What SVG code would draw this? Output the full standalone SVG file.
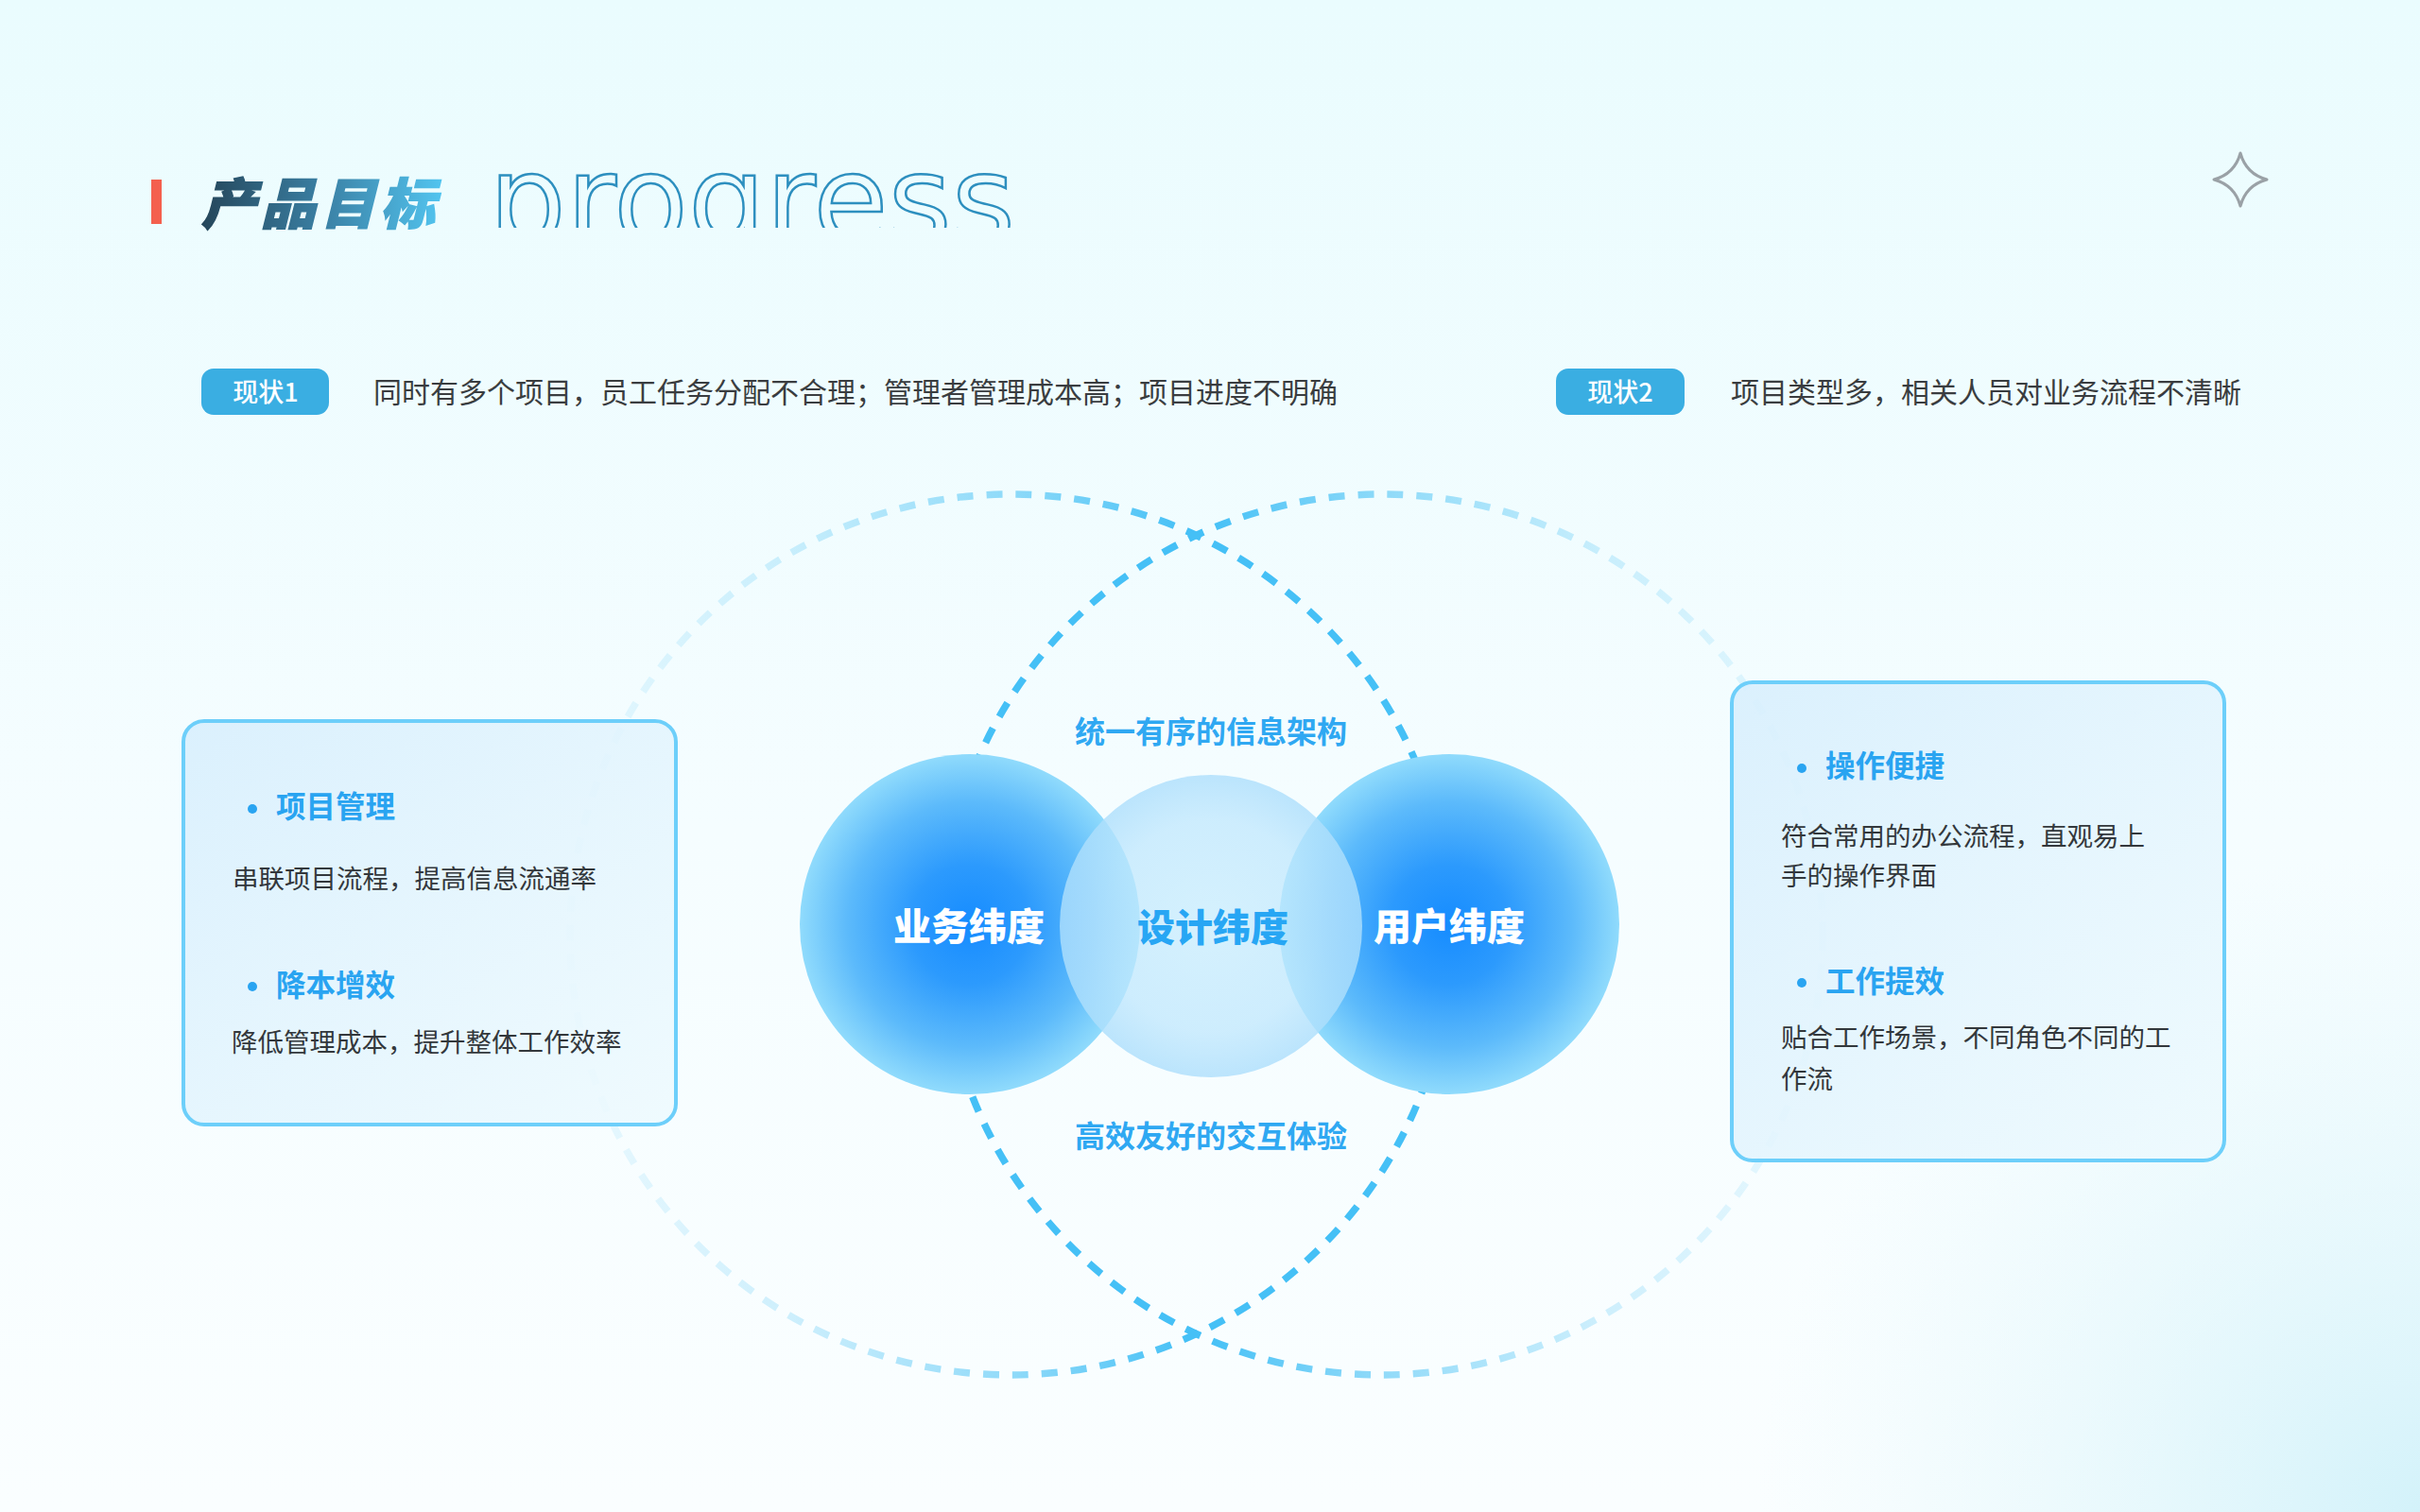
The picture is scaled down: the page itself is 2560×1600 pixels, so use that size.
<svg xmlns="http://www.w3.org/2000/svg" width="2560" height="1600" viewBox="0 0 2560 1600">
<defs>
<style>
.cjk{font-family:"Noto Sans CJK SC","Noto Sans",sans-serif;}
.tag{fill:#3aaee2;}
.tagtx{fill:#ffffff;font-size:27px;font-weight:500;text-anchor:middle;}
.desc{fill:#3a3d40;font-size:30px;font-weight:400;}
.box{stroke:#6dcffa;stroke-width:4;}
.hd{fill:#29a4f1;font-size:31.5px;font-weight:700;}
.dot{fill:#29a4f1;}
.body{fill:#33383c;font-size:27.5px;font-weight:400;}
.lbl{fill:#2fa8f2;font-size:32px;font-weight:700;text-anchor:middle;}
.cl{font-size:40px;font-weight:900;text-anchor:middle;}
.dash{fill:none;stroke-width:7.5;stroke-dasharray:17 14;}
</style>
<linearGradient id="bg" x1="0" y1="0" x2="0" y2="1">
<stop offset="0" stop-color="#eafcfe"/>
<stop offset="0.55" stop-color="#f5fdff"/>
<stop offset="1" stop-color="#fafeff"/>
</linearGradient>
<radialGradient id="bgc" cx="2560" cy="1600" r="700" gradientUnits="userSpaceOnUse">
<stop offset="0" stop-color="#d3f2fa" stop-opacity="1"/>
<stop offset="1" stop-color="#e3f7fb" stop-opacity="0"/>
</radialGradient>
<linearGradient id="title" x1="0" y1="0" x2="1" y2="0">
<stop offset="0" stop-color="#25465a"/>
<stop offset="0.5" stop-color="#3a7fa3"/>
<stop offset="1" stop-color="#52c4ef"/>
</linearGradient>
<linearGradient id="dl" x1="603" y1="0" x2="1535" y2="0" gradientUnits="userSpaceOnUse">
<stop offset="0" stop-color="#4cc3f5" stop-opacity="0.08"/>
<stop offset="0.25" stop-color="#4cc3f5" stop-opacity="0.25"/>
<stop offset="0.5" stop-color="#4cc3f5" stop-opacity="0.6"/>
<stop offset="0.7" stop-color="#45c0f6" stop-opacity="1"/>
<stop offset="1" stop-color="#45c0f6" stop-opacity="1"/>
</linearGradient>
<linearGradient id="dr" x1="1928" y1="0" x2="996" y2="0" gradientUnits="userSpaceOnUse">
<stop offset="0" stop-color="#4cc3f5" stop-opacity="0.08"/>
<stop offset="0.25" stop-color="#4cc3f5" stop-opacity="0.25"/>
<stop offset="0.5" stop-color="#4cc3f5" stop-opacity="0.6"/>
<stop offset="0.7" stop-color="#45c0f6" stop-opacity="1"/>
<stop offset="1" stop-color="#45c0f6" stop-opacity="1"/>
</linearGradient>
<radialGradient id="side" cx="0.5" cy="0.5" r="0.5">
<stop offset="0" stop-color="#168cff"/>
<stop offset="0.35" stop-color="#2c9afd"/>
<stop offset="0.72" stop-color="#5cbafb"/>
<stop offset="1" stop-color="#90dbfc"/>
</radialGradient>
<radialGradient id="mid" cx="0.5" cy="0.5" r="0.5">
<stop offset="0" stop-color="#c8ecfd" stop-opacity="0.72"/>
<stop offset="0.7" stop-color="#bfe7fd" stop-opacity="0.74"/>
<stop offset="1" stop-color="#aedffc" stop-opacity="0.82"/>
</radialGradient>
<linearGradient id="boxf" x1="0" y1="0" x2="1" y2="1">
<stop offset="0" stop-color="#d8effd" stop-opacity="0.9"/>
<stop offset="1" stop-color="#eefafe" stop-opacity="0.85"/>
</linearGradient>
<clipPath id="pclip"><rect x="500" y="150" width="640" height="91"/></clipPath>
</defs>

<rect x="0" y="0" width="2560" height="1600" fill="url(#bg)"/>
<rect x="0" y="0" width="2560" height="1600" fill="url(#bgc)"/>

<g id="header">
<rect x="160" y="190" width="11" height="47" fill="#f4604e"/>
<text class="cjk" x="213" y="237" font-size="58" font-weight="900" font-style="italic" letter-spacing="5" fill="url(#title)" stroke="url(#title)" stroke-width="1.5">产品目标</text>
<g clip-path="url(#pclip)">
<text x="517" y="257" font-family="DejaVu Sans, sans-serif" font-size="130" textLength="557" lengthAdjust="spacingAndGlyphs" fill="none" stroke="#2d8fbf" stroke-width="2.5">progress</text>
</g>
</g>

<g id="star">
<path d="M2370 162 Q2376 184 2398 190 Q2376 196 2370 218 Q2364 196 2342 190 Q2364 184 2370 162 Z" fill="none" stroke="#9aa1a6" stroke-width="3" stroke-linejoin="round"/>
</g>

<g id="status1">
<rect class="tag" x="213" y="390" width="135" height="49" rx="13"/>
<text class="cjk tagtx" x="281" y="425">现状1</text>
<text class="cjk desc" x="395" y="426">同时有多个项目，员工任务分配不合理；管理者管理成本高；项目进度不明确</text>
</g>
<g id="status2">
<rect class="tag" x="1646" y="390" width="136" height="49" rx="13"/>
<text class="cjk tagtx" x="1714" y="425">现状2</text>
<text class="cjk desc" x="1831" y="426">项目类型多，相关人员对业务流程不清晰</text>
</g>

<g id="connectors">
<circle class="dash" cx="1069" cy="989" r="466" stroke="url(#dl)"/>
<circle class="dash" cx="1462" cy="989" r="466" stroke="url(#dr)"/>
</g>

<g id="label-top">
<text class="cjk lbl" x="1281" y="786">统一有序的信息架构</text>
</g>
<g id="label-bottom">
<text class="cjk lbl" x="1281" y="1214">高效友好的交互体验</text>
</g>

<g id="circle-business">
<circle cx="1026" cy="978" r="180" fill="url(#side)"/>
</g>
<g id="circle-user">
<circle cx="1533" cy="978" r="180" fill="url(#side)"/>
</g>
<g id="circle-design">
<circle cx="1281" cy="980" r="160" fill="url(#mid)"/>
<text class="cjk cl" x="1283" y="996" fill="#27a6f4">设计纬度</text>
</g>
<text class="cjk cl" x="1025" y="995" fill="#ffffff">业务纬度</text>
<text class="cjk cl" x="1533" y="995" fill="#ffffff">用户纬度</text>

<g id="box-left">
<rect class="box" x="194" y="763" width="521" height="427" rx="22" fill="url(#boxf)"/>
<circle class="dot" cx="267" cy="856" r="5"/>
<text class="cjk hd" x="292" y="865">项目管理</text>
<text class="cjk body" x="246" y="940">串联项目流程，提高信息流通率</text>
<circle class="dot" cx="267" cy="1044" r="5"/>
<text class="cjk hd" x="292" y="1054">降本增效</text>
<text class="cjk body" x="245" y="1113">降低管理成本，提升整体工作效率</text>
</g>

<g id="box-right">
<rect class="box" x="1832" y="722" width="521" height="506" rx="22" fill="url(#boxf)"/>
<circle class="dot" cx="1906" cy="813" r="5"/>
<text class="cjk hd" x="1931" y="822">操作便捷</text>
<text class="cjk body" x="1884" y="895">符合常用的办公流程，直观易上</text>
<text class="cjk body" x="1884" y="937">手的操作界面</text>
<circle class="dot" cx="1906" cy="1040" r="5"/>
<text class="cjk hd" x="1931" y="1050">工作提效</text>
<text class="cjk body" x="1884" y="1108">贴合工作场景，不同角色不同的工</text>
<text class="cjk body" x="1884" y="1152">作流</text>
</g>
</svg>
